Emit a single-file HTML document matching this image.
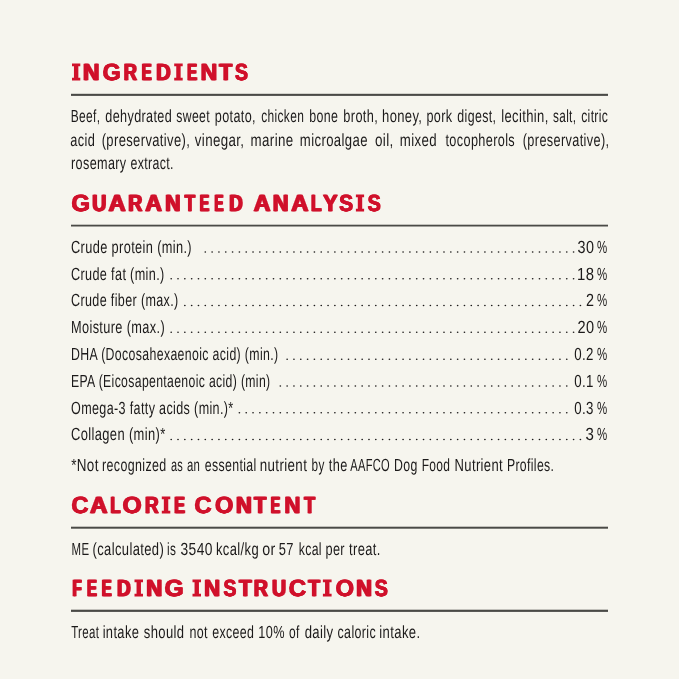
<!DOCTYPE html><html><head><meta charset="utf-8"><style>html,body{margin:0;padding:0;background:#f6f5ee;overflow:hidden}svg{display:block;will-change:transform}text{font-family:"Liberation Sans",sans-serif;white-space:pre}</style></head><body>
<svg width="679" height="679" viewBox="0 0 679 679">
<rect width="679" height="679" fill="#f6f5ee"/>
<g text-rendering="geometricPrecision" font-size="23.35" font-weight="bold" fill="#d0112b" stroke="#d0112b" stroke-width="0.30"><text x="82.30" y="80.30" textLength="16.50" lengthAdjust="spacingAndGlyphs">N</text><text x="83.00" y="80.30" textLength="16.50" lengthAdjust="spacingAndGlyphs">N</text><text x="83.70" y="80.30" textLength="16.50" lengthAdjust="spacingAndGlyphs">N</text><text x="102.20" y="80.30" textLength="18.20" lengthAdjust="spacingAndGlyphs">G</text><text x="102.60" y="80.30" textLength="18.20" lengthAdjust="spacingAndGlyphs">G</text><text x="103.00" y="80.30" textLength="18.20" lengthAdjust="spacingAndGlyphs">G</text><text x="123.00" y="80.30" textLength="13.20" lengthAdjust="spacingAndGlyphs">R</text><text x="123.70" y="80.30" textLength="13.20" lengthAdjust="spacingAndGlyphs">R</text><text x="124.40" y="80.30" textLength="13.20" lengthAdjust="spacingAndGlyphs">R</text><text x="141.10" y="80.30" textLength="9.90" lengthAdjust="spacingAndGlyphs">E</text><text x="141.80" y="80.30" textLength="9.90" lengthAdjust="spacingAndGlyphs">E</text><text x="142.50" y="80.30" textLength="9.90" lengthAdjust="spacingAndGlyphs">E</text><text x="155.40" y="80.30" textLength="14.70" lengthAdjust="spacingAndGlyphs">D</text><text x="156.10" y="80.30" textLength="14.70" lengthAdjust="spacingAndGlyphs">D</text><text x="156.80" y="80.30" textLength="14.70" lengthAdjust="spacingAndGlyphs">D</text><text x="186.40" y="80.30" textLength="10.10" lengthAdjust="spacingAndGlyphs">E</text><text x="187.10" y="80.30" textLength="10.10" lengthAdjust="spacingAndGlyphs">E</text><text x="187.80" y="80.30" textLength="10.10" lengthAdjust="spacingAndGlyphs">E</text><text x="199.90" y="80.30" textLength="16.60" lengthAdjust="spacingAndGlyphs">N</text><text x="200.60" y="80.30" textLength="16.60" lengthAdjust="spacingAndGlyphs">N</text><text x="201.30" y="80.30" textLength="16.60" lengthAdjust="spacingAndGlyphs">N</text><text x="218.50" y="80.30" textLength="13.00" lengthAdjust="spacingAndGlyphs">T</text><text x="219.20" y="80.30" textLength="13.00" lengthAdjust="spacingAndGlyphs">T</text><text x="219.90" y="80.30" textLength="13.00" lengthAdjust="spacingAndGlyphs">T</text><text x="234.50" y="80.30" textLength="13.10" lengthAdjust="spacingAndGlyphs">S</text><text x="234.90" y="80.30" textLength="13.10" lengthAdjust="spacingAndGlyphs">S</text><text x="235.30" y="80.30" textLength="13.10" lengthAdjust="spacingAndGlyphs">S</text><text x="70.90" y="211.20" textLength="18.70" lengthAdjust="spacingAndGlyphs">G</text><text x="71.30" y="211.20" textLength="18.70" lengthAdjust="spacingAndGlyphs">G</text><text x="71.70" y="211.20" textLength="18.70" lengthAdjust="spacingAndGlyphs">G</text><text x="91.50" y="211.20" textLength="14.10" lengthAdjust="spacingAndGlyphs">U</text><text x="92.20" y="211.20" textLength="14.10" lengthAdjust="spacingAndGlyphs">U</text><text x="92.90" y="211.20" textLength="14.10" lengthAdjust="spacingAndGlyphs">U</text><text x="107.80" y="211.20" textLength="17.20" lengthAdjust="spacingAndGlyphs">A</text><text x="108.50" y="211.20" textLength="17.20" lengthAdjust="spacingAndGlyphs">A</text><text x="109.20" y="211.20" textLength="17.20" lengthAdjust="spacingAndGlyphs">A</text><text x="127.60" y="211.20" textLength="14.10" lengthAdjust="spacingAndGlyphs">R</text><text x="128.30" y="211.20" textLength="14.10" lengthAdjust="spacingAndGlyphs">R</text><text x="129.00" y="211.20" textLength="14.10" lengthAdjust="spacingAndGlyphs">R</text><text x="144.60" y="211.20" textLength="16.70" lengthAdjust="spacingAndGlyphs">A</text><text x="145.30" y="211.20" textLength="16.70" lengthAdjust="spacingAndGlyphs">A</text><text x="146.00" y="211.20" textLength="16.70" lengthAdjust="spacingAndGlyphs">A</text><text x="164.50" y="211.20" textLength="15.30" lengthAdjust="spacingAndGlyphs">N</text><text x="165.20" y="211.20" textLength="15.30" lengthAdjust="spacingAndGlyphs">N</text><text x="165.90" y="211.20" textLength="15.30" lengthAdjust="spacingAndGlyphs">N</text><text x="183.90" y="211.20" textLength="10.60" lengthAdjust="spacingAndGlyphs">T</text><text x="184.60" y="211.20" textLength="10.60" lengthAdjust="spacingAndGlyphs">T</text><text x="185.30" y="211.20" textLength="10.60" lengthAdjust="spacingAndGlyphs">T</text><text x="198.90" y="211.20" textLength="9.70" lengthAdjust="spacingAndGlyphs">E</text><text x="199.60" y="211.20" textLength="9.70" lengthAdjust="spacingAndGlyphs">E</text><text x="200.30" y="211.20" textLength="9.70" lengthAdjust="spacingAndGlyphs">E</text><text x="213.70" y="211.20" textLength="9.20" lengthAdjust="spacingAndGlyphs">E</text><text x="214.40" y="211.20" textLength="9.20" lengthAdjust="spacingAndGlyphs">E</text><text x="215.10" y="211.20" textLength="9.20" lengthAdjust="spacingAndGlyphs">E</text><text x="228.50" y="211.20" textLength="13.50" lengthAdjust="spacingAndGlyphs">D</text><text x="229.20" y="211.20" textLength="13.50" lengthAdjust="spacingAndGlyphs">D</text><text x="229.90" y="211.20" textLength="13.50" lengthAdjust="spacingAndGlyphs">D</text><text x="253.00" y="211.20" textLength="16.70" lengthAdjust="spacingAndGlyphs">A</text><text x="253.70" y="211.20" textLength="16.70" lengthAdjust="spacingAndGlyphs">A</text><text x="254.40" y="211.20" textLength="16.70" lengthAdjust="spacingAndGlyphs">A</text><text x="272.10" y="211.20" textLength="15.80" lengthAdjust="spacingAndGlyphs">N</text><text x="272.80" y="211.20" textLength="15.80" lengthAdjust="spacingAndGlyphs">N</text><text x="273.50" y="211.20" textLength="15.80" lengthAdjust="spacingAndGlyphs">N</text><text x="290.60" y="211.20" textLength="17.20" lengthAdjust="spacingAndGlyphs">A</text><text x="291.30" y="211.20" textLength="17.20" lengthAdjust="spacingAndGlyphs">A</text><text x="292.00" y="211.20" textLength="17.20" lengthAdjust="spacingAndGlyphs">A</text><text x="310.20" y="211.20" textLength="10.70" lengthAdjust="spacingAndGlyphs">L</text><text x="310.90" y="211.20" textLength="10.70" lengthAdjust="spacingAndGlyphs">L</text><text x="311.60" y="211.20" textLength="10.70" lengthAdjust="spacingAndGlyphs">L</text><text x="322.40" y="211.20" textLength="14.50" lengthAdjust="spacingAndGlyphs">Y</text><text x="323.10" y="211.20" textLength="14.50" lengthAdjust="spacingAndGlyphs">Y</text><text x="323.80" y="211.20" textLength="14.50" lengthAdjust="spacingAndGlyphs">Y</text><text x="338.70" y="211.20" textLength="14.10" lengthAdjust="spacingAndGlyphs">S</text><text x="339.10" y="211.20" textLength="14.10" lengthAdjust="spacingAndGlyphs">S</text><text x="339.50" y="211.20" textLength="14.10" lengthAdjust="spacingAndGlyphs">S</text><text x="367.20" y="211.20" textLength="13.20" lengthAdjust="spacingAndGlyphs">S</text><text x="367.60" y="211.20" textLength="13.20" lengthAdjust="spacingAndGlyphs">S</text><text x="368.00" y="211.20" textLength="13.20" lengthAdjust="spacingAndGlyphs">S</text><text x="71.00" y="513.40" textLength="17.10" lengthAdjust="spacingAndGlyphs">C</text><text x="71.40" y="513.40" textLength="17.10" lengthAdjust="spacingAndGlyphs">C</text><text x="71.80" y="513.40" textLength="17.10" lengthAdjust="spacingAndGlyphs">C</text><text x="89.30" y="513.40" textLength="17.50" lengthAdjust="spacingAndGlyphs">A</text><text x="90.00" y="513.40" textLength="17.50" lengthAdjust="spacingAndGlyphs">A</text><text x="90.70" y="513.40" textLength="17.50" lengthAdjust="spacingAndGlyphs">A</text><text x="109.70" y="513.40" textLength="10.20" lengthAdjust="spacingAndGlyphs">L</text><text x="110.40" y="513.40" textLength="10.20" lengthAdjust="spacingAndGlyphs">L</text><text x="111.10" y="513.40" textLength="10.20" lengthAdjust="spacingAndGlyphs">L</text><text x="122.10" y="513.40" textLength="19.20" lengthAdjust="spacingAndGlyphs">O</text><text x="122.50" y="513.40" textLength="19.20" lengthAdjust="spacingAndGlyphs">O</text><text x="122.90" y="513.40" textLength="19.20" lengthAdjust="spacingAndGlyphs">O</text><text x="144.20" y="513.40" textLength="13.80" lengthAdjust="spacingAndGlyphs">R</text><text x="144.90" y="513.40" textLength="13.80" lengthAdjust="spacingAndGlyphs">R</text><text x="145.60" y="513.40" textLength="13.80" lengthAdjust="spacingAndGlyphs">R</text><text x="173.60" y="513.40" textLength="10.70" lengthAdjust="spacingAndGlyphs">E</text><text x="174.30" y="513.40" textLength="10.70" lengthAdjust="spacingAndGlyphs">E</text><text x="175.00" y="513.40" textLength="10.70" lengthAdjust="spacingAndGlyphs">E</text><text x="194.00" y="513.40" textLength="17.20" lengthAdjust="spacingAndGlyphs">C</text><text x="194.40" y="513.40" textLength="17.20" lengthAdjust="spacingAndGlyphs">C</text><text x="194.80" y="513.40" textLength="17.20" lengthAdjust="spacingAndGlyphs">C</text><text x="214.60" y="513.40" textLength="18.40" lengthAdjust="spacingAndGlyphs">O</text><text x="215.00" y="513.40" textLength="18.40" lengthAdjust="spacingAndGlyphs">O</text><text x="215.40" y="513.40" textLength="18.40" lengthAdjust="spacingAndGlyphs">O</text><text x="235.30" y="513.40" textLength="15.80" lengthAdjust="spacingAndGlyphs">N</text><text x="236.00" y="513.40" textLength="15.80" lengthAdjust="spacingAndGlyphs">N</text><text x="236.70" y="513.40" textLength="15.80" lengthAdjust="spacingAndGlyphs">N</text><text x="253.30" y="513.40" textLength="12.30" lengthAdjust="spacingAndGlyphs">T</text><text x="254.00" y="513.40" textLength="12.30" lengthAdjust="spacingAndGlyphs">T</text><text x="254.70" y="513.40" textLength="12.30" lengthAdjust="spacingAndGlyphs">T</text><text x="269.90" y="513.40" textLength="9.70" lengthAdjust="spacingAndGlyphs">E</text><text x="270.60" y="513.40" textLength="9.70" lengthAdjust="spacingAndGlyphs">E</text><text x="271.30" y="513.40" textLength="9.70" lengthAdjust="spacingAndGlyphs">E</text><text x="283.70" y="513.40" textLength="16.00" lengthAdjust="spacingAndGlyphs">N</text><text x="284.40" y="513.40" textLength="16.00" lengthAdjust="spacingAndGlyphs">N</text><text x="285.10" y="513.40" textLength="16.00" lengthAdjust="spacingAndGlyphs">N</text><text x="303.40" y="513.40" textLength="11.10" lengthAdjust="spacingAndGlyphs">T</text><text x="304.10" y="513.40" textLength="11.10" lengthAdjust="spacingAndGlyphs">T</text><text x="304.80" y="513.40" textLength="11.10" lengthAdjust="spacingAndGlyphs">T</text><text x="71.80" y="596.20" textLength="9.20" lengthAdjust="spacingAndGlyphs">F</text><text x="72.50" y="596.20" textLength="9.20" lengthAdjust="spacingAndGlyphs">F</text><text x="73.20" y="596.20" textLength="9.20" lengthAdjust="spacingAndGlyphs">F</text><text x="86.20" y="596.20" textLength="10.10" lengthAdjust="spacingAndGlyphs">E</text><text x="86.90" y="596.20" textLength="10.10" lengthAdjust="spacingAndGlyphs">E</text><text x="87.60" y="596.20" textLength="10.10" lengthAdjust="spacingAndGlyphs">E</text><text x="101.00" y="596.20" textLength="9.90" lengthAdjust="spacingAndGlyphs">E</text><text x="101.70" y="596.20" textLength="9.90" lengthAdjust="spacingAndGlyphs">E</text><text x="102.40" y="596.20" textLength="9.90" lengthAdjust="spacingAndGlyphs">E</text><text x="116.30" y="596.20" textLength="13.80" lengthAdjust="spacingAndGlyphs">D</text><text x="117.00" y="596.20" textLength="13.80" lengthAdjust="spacingAndGlyphs">D</text><text x="117.70" y="596.20" textLength="13.80" lengthAdjust="spacingAndGlyphs">D</text><text x="145.60" y="596.20" textLength="16.10" lengthAdjust="spacingAndGlyphs">N</text><text x="146.30" y="596.20" textLength="16.10" lengthAdjust="spacingAndGlyphs">N</text><text x="147.00" y="596.20" textLength="16.10" lengthAdjust="spacingAndGlyphs">N</text><text x="164.10" y="596.20" textLength="19.20" lengthAdjust="spacingAndGlyphs">G</text><text x="164.50" y="596.20" textLength="19.20" lengthAdjust="spacingAndGlyphs">G</text><text x="164.90" y="596.20" textLength="19.20" lengthAdjust="spacingAndGlyphs">G</text><text x="203.40" y="596.20" textLength="16.00" lengthAdjust="spacingAndGlyphs">N</text><text x="204.10" y="596.20" textLength="16.00" lengthAdjust="spacingAndGlyphs">N</text><text x="204.80" y="596.20" textLength="16.00" lengthAdjust="spacingAndGlyphs">N</text><text x="223.00" y="596.20" textLength="13.00" lengthAdjust="spacingAndGlyphs">S</text><text x="223.40" y="596.20" textLength="13.00" lengthAdjust="spacingAndGlyphs">S</text><text x="223.80" y="596.20" textLength="13.00" lengthAdjust="spacingAndGlyphs">S</text><text x="238.30" y="596.20" textLength="12.60" lengthAdjust="spacingAndGlyphs">T</text><text x="239.00" y="596.20" textLength="12.60" lengthAdjust="spacingAndGlyphs">T</text><text x="239.70" y="596.20" textLength="12.60" lengthAdjust="spacingAndGlyphs">T</text><text x="253.10" y="596.20" textLength="14.20" lengthAdjust="spacingAndGlyphs">R</text><text x="253.80" y="596.20" textLength="14.20" lengthAdjust="spacingAndGlyphs">R</text><text x="254.50" y="596.20" textLength="14.20" lengthAdjust="spacingAndGlyphs">R</text><text x="271.30" y="596.20" textLength="14.10" lengthAdjust="spacingAndGlyphs">U</text><text x="272.00" y="596.20" textLength="14.10" lengthAdjust="spacingAndGlyphs">U</text><text x="272.70" y="596.20" textLength="14.10" lengthAdjust="spacingAndGlyphs">U</text><text x="288.30" y="596.20" textLength="17.50" lengthAdjust="spacingAndGlyphs">C</text><text x="288.70" y="596.20" textLength="17.50" lengthAdjust="spacingAndGlyphs">C</text><text x="289.10" y="596.20" textLength="17.50" lengthAdjust="spacingAndGlyphs">C</text><text x="307.50" y="596.20" textLength="11.80" lengthAdjust="spacingAndGlyphs">T</text><text x="308.20" y="596.20" textLength="11.80" lengthAdjust="spacingAndGlyphs">T</text><text x="308.90" y="596.20" textLength="11.80" lengthAdjust="spacingAndGlyphs">T</text><text x="335.20" y="596.20" textLength="18.50" lengthAdjust="spacingAndGlyphs">O</text><text x="335.60" y="596.20" textLength="18.50" lengthAdjust="spacingAndGlyphs">O</text><text x="336.00" y="596.20" textLength="18.50" lengthAdjust="spacingAndGlyphs">O</text><text x="355.60" y="596.20" textLength="15.60" lengthAdjust="spacingAndGlyphs">N</text><text x="356.30" y="596.20" textLength="15.60" lengthAdjust="spacingAndGlyphs">N</text><text x="357.00" y="596.20" textLength="15.60" lengthAdjust="spacingAndGlyphs">N</text><text x="374.30" y="596.20" textLength="13.20" lengthAdjust="spacingAndGlyphs">S</text><text x="374.70" y="596.20" textLength="13.20" lengthAdjust="spacingAndGlyphs">S</text><text x="375.10" y="596.20" textLength="13.20" lengthAdjust="spacingAndGlyphs">S</text></g>
<g text-rendering="geometricPrecision" font-size="17.60" letter-spacing="0.5" fill="#1c1a1a"><text x="70.75" y="121.90" textLength="29.60" lengthAdjust="spacingAndGlyphs">Beef,</text><text x="105.35" y="121.90" textLength="66.80" lengthAdjust="spacingAndGlyphs">dehydrated</text><text x="176.35" y="121.90" textLength="33.60" lengthAdjust="spacingAndGlyphs">sweet</text><text x="214.85" y="121.90" textLength="41.10" lengthAdjust="spacingAndGlyphs">potato,</text><text x="261.25" y="121.90" textLength="42.90" lengthAdjust="spacingAndGlyphs">chicken</text><text x="309.15" y="121.90" textLength="29.00" lengthAdjust="spacingAndGlyphs">bone</text><text x="343.35" y="121.90" textLength="34.80" lengthAdjust="spacingAndGlyphs">broth,</text><text x="382.05" y="121.90" textLength="40.30" lengthAdjust="spacingAndGlyphs">honey,</text><text x="426.45" y="121.90" textLength="26.00" lengthAdjust="spacingAndGlyphs">pork</text><text x="457.35" y="121.90" textLength="38.90" lengthAdjust="spacingAndGlyphs">digest,</text><text x="501.25" y="121.90" textLength="47.40" lengthAdjust="spacingAndGlyphs">lecithin,</text><text x="553.05" y="121.90" textLength="23.30" lengthAdjust="spacingAndGlyphs">salt,</text><text x="581.15" y="121.90" textLength="27.10" lengthAdjust="spacingAndGlyphs">citric</text><text x="70.35" y="145.50" textLength="24.90" lengthAdjust="spacingAndGlyphs">acid</text><text x="101.65" y="145.50" textLength="88.60" lengthAdjust="spacingAndGlyphs">(preservative),</text><text x="194.75" y="145.50" textLength="49.70" lengthAdjust="spacingAndGlyphs">vinegar,</text><text x="250.55" y="145.50" textLength="43.00" lengthAdjust="spacingAndGlyphs">marine</text><text x="299.85" y="145.50" textLength="68.00" lengthAdjust="spacingAndGlyphs">microalgae</text><text x="374.95" y="145.50" textLength="18.80" lengthAdjust="spacingAndGlyphs">oil,</text><text x="399.75" y="145.50" textLength="37.20" lengthAdjust="spacingAndGlyphs">mixed</text><text x="445.45" y="145.50" textLength="69.60" lengthAdjust="spacingAndGlyphs">tocopherols</text><text x="522.75" y="145.50" textLength="86.70" lengthAdjust="spacingAndGlyphs">(preservative),</text><text x="71.05" y="169.10" textLength="55.50" lengthAdjust="spacingAndGlyphs">rosemary</text><text x="130.45" y="169.10" textLength="43.40" lengthAdjust="spacingAndGlyphs">extract.</text><text x="71.15" y="471.00" textLength="27.70" lengthAdjust="spacingAndGlyphs">*Not</text><text x="102.05" y="471.00" textLength="64.50" lengthAdjust="spacingAndGlyphs">recognized</text><text x="170.95" y="471.00" textLength="12.20" lengthAdjust="spacingAndGlyphs">as</text><text x="186.95" y="471.00" textLength="13.30" lengthAdjust="spacingAndGlyphs">an</text><text x="204.75" y="471.00" textLength="51.80" lengthAdjust="spacingAndGlyphs">essential</text><text x="259.75" y="471.00" textLength="47.50" lengthAdjust="spacingAndGlyphs">nutrient</text><text x="311.55" y="471.00" textLength="13.10" lengthAdjust="spacingAndGlyphs">by</text><text x="328.85" y="471.00" textLength="18.80" lengthAdjust="spacingAndGlyphs">the</text><text x="350.25" y="471.00" textLength="39.80" lengthAdjust="spacingAndGlyphs">AAFCO</text><text x="393.95" y="471.00" textLength="23.70" lengthAdjust="spacingAndGlyphs">Dog</text><text x="421.65" y="471.00" textLength="28.70" lengthAdjust="spacingAndGlyphs">Food</text><text x="454.55" y="471.00" textLength="48.50" lengthAdjust="spacingAndGlyphs">Nutrient</text><text x="506.95" y="471.00" textLength="47.30" lengthAdjust="spacingAndGlyphs">Profiles.</text><text x="71.55" y="554.70" textLength="17.80" lengthAdjust="spacingAndGlyphs">ME</text><text x="92.55" y="554.70" textLength="71.60" lengthAdjust="spacingAndGlyphs">(calculated)</text><text x="166.95" y="554.70" textLength="9.20" lengthAdjust="spacingAndGlyphs">is</text><text x="180.55" y="554.70" textLength="32.30" lengthAdjust="spacingAndGlyphs">3540</text><text x="215.95" y="554.70" textLength="43.10" lengthAdjust="spacingAndGlyphs">kcal/kg</text><text x="262.15" y="554.70" textLength="13.50" lengthAdjust="spacingAndGlyphs">or</text><text x="278.65" y="554.70" textLength="15.10" lengthAdjust="spacingAndGlyphs">57</text><text x="298.65" y="554.70" textLength="23.30" lengthAdjust="spacingAndGlyphs">kcal</text><text x="325.45" y="554.70" textLength="19.50" lengthAdjust="spacingAndGlyphs">per</text><text x="349.05" y="554.70" textLength="31.60" lengthAdjust="spacingAndGlyphs">treat.</text><text x="71.15" y="638.00" textLength="28.10" lengthAdjust="spacingAndGlyphs">Treat</text><text x="102.65" y="638.00" textLength="36.60" lengthAdjust="spacingAndGlyphs">intake</text><text x="143.75" y="638.00" textLength="40.70" lengthAdjust="spacingAndGlyphs">should</text><text x="189.55" y="638.00" textLength="18.40" lengthAdjust="spacingAndGlyphs">not</text><text x="212.25" y="638.00" textLength="42.10" lengthAdjust="spacingAndGlyphs">exceed</text><text x="258.35" y="638.00" textLength="26.50" lengthAdjust="spacingAndGlyphs">10%</text><text x="288.95" y="638.00" textLength="10.70" lengthAdjust="spacingAndGlyphs">of</text><text x="304.65" y="638.00" textLength="28.90" lengthAdjust="spacingAndGlyphs">daily</text><text x="337.55" y="638.00" textLength="38.40" lengthAdjust="spacingAndGlyphs">caloric</text><text x="379.35" y="638.00" textLength="41.10" lengthAdjust="spacingAndGlyphs">intake.</text><text x="71.00" y="252.70" textLength="121.00" lengthAdjust="spacingAndGlyphs">Crude protein (min.)</text><text x="577.60" y="252.70" textLength="16.80" lengthAdjust="spacingAndGlyphs">30</text><text x="597.00" y="252.70" textLength="10.50" lengthAdjust="spacingAndGlyphs">%</text><text x="71.00" y="279.50" textLength="93.60" lengthAdjust="spacingAndGlyphs">Crude fat (min.)</text><text x="577.00" y="279.50" textLength="17.40" lengthAdjust="spacingAndGlyphs">18</text><text x="597.00" y="279.50" textLength="10.50" lengthAdjust="spacingAndGlyphs">%</text><text x="71.00" y="306.30" textLength="107.60" lengthAdjust="spacingAndGlyphs">Crude fiber (max.)</text><text x="586.00" y="306.30" textLength="8.40" lengthAdjust="spacingAndGlyphs">2</text><text x="597.00" y="306.30" textLength="10.50" lengthAdjust="spacingAndGlyphs">%</text><text x="71.00" y="333.10" textLength="94.00" lengthAdjust="spacingAndGlyphs">Moisture (max.)</text><text x="577.40" y="333.10" textLength="17.00" lengthAdjust="spacingAndGlyphs">20</text><text x="597.00" y="333.10" textLength="10.50" lengthAdjust="spacingAndGlyphs">%</text><text x="71.00" y="359.90" textLength="207.40" lengthAdjust="spacingAndGlyphs">DHA (Docosahexaenoic acid) (min.)</text><text x="574.20" y="359.90" textLength="19.60" lengthAdjust="spacingAndGlyphs">0.2</text><text x="597.00" y="359.90" textLength="10.50" lengthAdjust="spacingAndGlyphs">%</text><text x="71.00" y="386.70" textLength="199.50" lengthAdjust="spacingAndGlyphs">EPA (Eicosapentaenoic acid) (min)</text><text x="574.20" y="386.70" textLength="19.60" lengthAdjust="spacingAndGlyphs">0.1</text><text x="597.00" y="386.70" textLength="10.50" lengthAdjust="spacingAndGlyphs">%</text><text x="71.00" y="413.50" textLength="162.60" lengthAdjust="spacingAndGlyphs">Omega-3 fatty acids (min.)*</text><text x="574.20" y="413.50" textLength="19.60" lengthAdjust="spacingAndGlyphs">0.3</text><text x="597.00" y="413.50" textLength="10.50" lengthAdjust="spacingAndGlyphs">%</text><text x="71.00" y="440.30" textLength="94.60" lengthAdjust="spacingAndGlyphs">Collagen (min)*</text><text x="585.60" y="440.30" textLength="8.80" lengthAdjust="spacingAndGlyphs">3</text><text x="597.00" y="440.30" textLength="10.50" lengthAdjust="spacingAndGlyphs">%</text></g>
<g fill="#d0112b"><path d="M72.00 63.45H80.30V66.35H78.35V77.65H80.30V80.55H72.00V77.65H73.95V66.35H72.00Z"/><path d="M174.20 63.45H182.70V66.35H180.65V77.65H182.70V80.55H174.20V77.65H176.25V66.35H174.20Z"/><path d="M355.90 194.45H364.10V197.35H362.20V208.65H364.10V211.55H355.90V208.65H357.80V197.35H355.90Z"/><path d="M161.80 496.45H170.30V499.35H168.25V510.65H170.30V513.55H161.80V510.65H163.85V499.35H161.80Z"/><path d="M134.50 579.45H143.00V582.35H140.95V593.65H143.00V596.55H134.50V593.65H136.55V582.35H134.50Z"/><path d="M192.50 579.45H201.00V582.35H198.95V593.65H201.00V596.55H192.50V593.65H194.55V582.35H192.50Z"/><path d="M322.90 579.45H331.60V582.35H329.45V593.65H331.60V596.55H322.90V593.65H325.05V582.35H322.90Z"/></g>
<rect x="71" y="93.80" width="537" height="2.10" fill="#4a4a46"/>
<rect x="71" y="224.70" width="537" height="1.80" fill="#4a4a46"/>
<rect x="71" y="526.70" width="537" height="2.00" fill="#4a4a46"/>
<rect x="71" y="609.70" width="537" height="2.20" fill="#4a4a46"/>
<g fill="#1c1a1a"><ellipse cx="205.30" cy="251.95" rx="0.85" ry="0.75"/><ellipse cx="212.12" cy="251.95" rx="0.85" ry="0.75"/><ellipse cx="218.94" cy="251.95" rx="0.85" ry="0.75"/><ellipse cx="225.76" cy="251.95" rx="0.85" ry="0.75"/><ellipse cx="232.58" cy="251.95" rx="0.85" ry="0.75"/><ellipse cx="239.40" cy="251.95" rx="0.85" ry="0.75"/><ellipse cx="246.22" cy="251.95" rx="0.85" ry="0.75"/><ellipse cx="253.04" cy="251.95" rx="0.85" ry="0.75"/><ellipse cx="259.86" cy="251.95" rx="0.85" ry="0.75"/><ellipse cx="266.68" cy="251.95" rx="0.85" ry="0.75"/><ellipse cx="273.50" cy="251.95" rx="0.85" ry="0.75"/><ellipse cx="280.32" cy="251.95" rx="0.85" ry="0.75"/><ellipse cx="287.14" cy="251.95" rx="0.85" ry="0.75"/><ellipse cx="293.96" cy="251.95" rx="0.85" ry="0.75"/><ellipse cx="300.78" cy="251.95" rx="0.85" ry="0.75"/><ellipse cx="307.60" cy="251.95" rx="0.85" ry="0.75"/><ellipse cx="314.42" cy="251.95" rx="0.85" ry="0.75"/><ellipse cx="321.24" cy="251.95" rx="0.85" ry="0.75"/><ellipse cx="328.06" cy="251.95" rx="0.85" ry="0.75"/><ellipse cx="334.88" cy="251.95" rx="0.85" ry="0.75"/><ellipse cx="341.70" cy="251.95" rx="0.85" ry="0.75"/><ellipse cx="348.52" cy="251.95" rx="0.85" ry="0.75"/><ellipse cx="355.34" cy="251.95" rx="0.85" ry="0.75"/><ellipse cx="362.16" cy="251.95" rx="0.85" ry="0.75"/><ellipse cx="368.98" cy="251.95" rx="0.85" ry="0.75"/><ellipse cx="375.80" cy="251.95" rx="0.85" ry="0.75"/><ellipse cx="382.62" cy="251.95" rx="0.85" ry="0.75"/><ellipse cx="389.44" cy="251.95" rx="0.85" ry="0.75"/><ellipse cx="396.26" cy="251.95" rx="0.85" ry="0.75"/><ellipse cx="403.08" cy="251.95" rx="0.85" ry="0.75"/><ellipse cx="409.90" cy="251.95" rx="0.85" ry="0.75"/><ellipse cx="416.72" cy="251.95" rx="0.85" ry="0.75"/><ellipse cx="423.54" cy="251.95" rx="0.85" ry="0.75"/><ellipse cx="430.36" cy="251.95" rx="0.85" ry="0.75"/><ellipse cx="437.18" cy="251.95" rx="0.85" ry="0.75"/><ellipse cx="444.00" cy="251.95" rx="0.85" ry="0.75"/><ellipse cx="450.82" cy="251.95" rx="0.85" ry="0.75"/><ellipse cx="457.64" cy="251.95" rx="0.85" ry="0.75"/><ellipse cx="464.46" cy="251.95" rx="0.85" ry="0.75"/><ellipse cx="471.28" cy="251.95" rx="0.85" ry="0.75"/><ellipse cx="478.10" cy="251.95" rx="0.85" ry="0.75"/><ellipse cx="484.92" cy="251.95" rx="0.85" ry="0.75"/><ellipse cx="491.74" cy="251.95" rx="0.85" ry="0.75"/><ellipse cx="498.56" cy="251.95" rx="0.85" ry="0.75"/><ellipse cx="505.38" cy="251.95" rx="0.85" ry="0.75"/><ellipse cx="512.20" cy="251.95" rx="0.85" ry="0.75"/><ellipse cx="519.02" cy="251.95" rx="0.85" ry="0.75"/><ellipse cx="525.84" cy="251.95" rx="0.85" ry="0.75"/><ellipse cx="532.66" cy="251.95" rx="0.85" ry="0.75"/><ellipse cx="539.48" cy="251.95" rx="0.85" ry="0.75"/><ellipse cx="546.30" cy="251.95" rx="0.85" ry="0.75"/><ellipse cx="553.12" cy="251.95" rx="0.85" ry="0.75"/><ellipse cx="559.94" cy="251.95" rx="0.85" ry="0.75"/><ellipse cx="566.76" cy="251.95" rx="0.85" ry="0.75"/><ellipse cx="573.58" cy="251.95" rx="0.85" ry="0.75"/></g>
<g fill="#1c1a1a"><ellipse cx="171.20" cy="278.75" rx="0.85" ry="0.75"/><ellipse cx="178.02" cy="278.75" rx="0.85" ry="0.75"/><ellipse cx="184.84" cy="278.75" rx="0.85" ry="0.75"/><ellipse cx="191.66" cy="278.75" rx="0.85" ry="0.75"/><ellipse cx="198.48" cy="278.75" rx="0.85" ry="0.75"/><ellipse cx="205.30" cy="278.75" rx="0.85" ry="0.75"/><ellipse cx="212.12" cy="278.75" rx="0.85" ry="0.75"/><ellipse cx="218.94" cy="278.75" rx="0.85" ry="0.75"/><ellipse cx="225.76" cy="278.75" rx="0.85" ry="0.75"/><ellipse cx="232.58" cy="278.75" rx="0.85" ry="0.75"/><ellipse cx="239.40" cy="278.75" rx="0.85" ry="0.75"/><ellipse cx="246.22" cy="278.75" rx="0.85" ry="0.75"/><ellipse cx="253.04" cy="278.75" rx="0.85" ry="0.75"/><ellipse cx="259.86" cy="278.75" rx="0.85" ry="0.75"/><ellipse cx="266.68" cy="278.75" rx="0.85" ry="0.75"/><ellipse cx="273.50" cy="278.75" rx="0.85" ry="0.75"/><ellipse cx="280.32" cy="278.75" rx="0.85" ry="0.75"/><ellipse cx="287.14" cy="278.75" rx="0.85" ry="0.75"/><ellipse cx="293.96" cy="278.75" rx="0.85" ry="0.75"/><ellipse cx="300.78" cy="278.75" rx="0.85" ry="0.75"/><ellipse cx="307.60" cy="278.75" rx="0.85" ry="0.75"/><ellipse cx="314.42" cy="278.75" rx="0.85" ry="0.75"/><ellipse cx="321.24" cy="278.75" rx="0.85" ry="0.75"/><ellipse cx="328.06" cy="278.75" rx="0.85" ry="0.75"/><ellipse cx="334.88" cy="278.75" rx="0.85" ry="0.75"/><ellipse cx="341.70" cy="278.75" rx="0.85" ry="0.75"/><ellipse cx="348.52" cy="278.75" rx="0.85" ry="0.75"/><ellipse cx="355.34" cy="278.75" rx="0.85" ry="0.75"/><ellipse cx="362.16" cy="278.75" rx="0.85" ry="0.75"/><ellipse cx="368.98" cy="278.75" rx="0.85" ry="0.75"/><ellipse cx="375.80" cy="278.75" rx="0.85" ry="0.75"/><ellipse cx="382.62" cy="278.75" rx="0.85" ry="0.75"/><ellipse cx="389.44" cy="278.75" rx="0.85" ry="0.75"/><ellipse cx="396.26" cy="278.75" rx="0.85" ry="0.75"/><ellipse cx="403.08" cy="278.75" rx="0.85" ry="0.75"/><ellipse cx="409.90" cy="278.75" rx="0.85" ry="0.75"/><ellipse cx="416.72" cy="278.75" rx="0.85" ry="0.75"/><ellipse cx="423.54" cy="278.75" rx="0.85" ry="0.75"/><ellipse cx="430.36" cy="278.75" rx="0.85" ry="0.75"/><ellipse cx="437.18" cy="278.75" rx="0.85" ry="0.75"/><ellipse cx="444.00" cy="278.75" rx="0.85" ry="0.75"/><ellipse cx="450.82" cy="278.75" rx="0.85" ry="0.75"/><ellipse cx="457.64" cy="278.75" rx="0.85" ry="0.75"/><ellipse cx="464.46" cy="278.75" rx="0.85" ry="0.75"/><ellipse cx="471.28" cy="278.75" rx="0.85" ry="0.75"/><ellipse cx="478.10" cy="278.75" rx="0.85" ry="0.75"/><ellipse cx="484.92" cy="278.75" rx="0.85" ry="0.75"/><ellipse cx="491.74" cy="278.75" rx="0.85" ry="0.75"/><ellipse cx="498.56" cy="278.75" rx="0.85" ry="0.75"/><ellipse cx="505.38" cy="278.75" rx="0.85" ry="0.75"/><ellipse cx="512.20" cy="278.75" rx="0.85" ry="0.75"/><ellipse cx="519.02" cy="278.75" rx="0.85" ry="0.75"/><ellipse cx="525.84" cy="278.75" rx="0.85" ry="0.75"/><ellipse cx="532.66" cy="278.75" rx="0.85" ry="0.75"/><ellipse cx="539.48" cy="278.75" rx="0.85" ry="0.75"/><ellipse cx="546.30" cy="278.75" rx="0.85" ry="0.75"/><ellipse cx="553.12" cy="278.75" rx="0.85" ry="0.75"/><ellipse cx="559.94" cy="278.75" rx="0.85" ry="0.75"/><ellipse cx="566.76" cy="278.75" rx="0.85" ry="0.75"/><ellipse cx="573.58" cy="278.75" rx="0.85" ry="0.75"/></g>
<g fill="#1c1a1a"><ellipse cx="184.84" cy="305.55" rx="0.85" ry="0.75"/><ellipse cx="191.66" cy="305.55" rx="0.85" ry="0.75"/><ellipse cx="198.48" cy="305.55" rx="0.85" ry="0.75"/><ellipse cx="205.30" cy="305.55" rx="0.85" ry="0.75"/><ellipse cx="212.12" cy="305.55" rx="0.85" ry="0.75"/><ellipse cx="218.94" cy="305.55" rx="0.85" ry="0.75"/><ellipse cx="225.76" cy="305.55" rx="0.85" ry="0.75"/><ellipse cx="232.58" cy="305.55" rx="0.85" ry="0.75"/><ellipse cx="239.40" cy="305.55" rx="0.85" ry="0.75"/><ellipse cx="246.22" cy="305.55" rx="0.85" ry="0.75"/><ellipse cx="253.04" cy="305.55" rx="0.85" ry="0.75"/><ellipse cx="259.86" cy="305.55" rx="0.85" ry="0.75"/><ellipse cx="266.68" cy="305.55" rx="0.85" ry="0.75"/><ellipse cx="273.50" cy="305.55" rx="0.85" ry="0.75"/><ellipse cx="280.32" cy="305.55" rx="0.85" ry="0.75"/><ellipse cx="287.14" cy="305.55" rx="0.85" ry="0.75"/><ellipse cx="293.96" cy="305.55" rx="0.85" ry="0.75"/><ellipse cx="300.78" cy="305.55" rx="0.85" ry="0.75"/><ellipse cx="307.60" cy="305.55" rx="0.85" ry="0.75"/><ellipse cx="314.42" cy="305.55" rx="0.85" ry="0.75"/><ellipse cx="321.24" cy="305.55" rx="0.85" ry="0.75"/><ellipse cx="328.06" cy="305.55" rx="0.85" ry="0.75"/><ellipse cx="334.88" cy="305.55" rx="0.85" ry="0.75"/><ellipse cx="341.70" cy="305.55" rx="0.85" ry="0.75"/><ellipse cx="348.52" cy="305.55" rx="0.85" ry="0.75"/><ellipse cx="355.34" cy="305.55" rx="0.85" ry="0.75"/><ellipse cx="362.16" cy="305.55" rx="0.85" ry="0.75"/><ellipse cx="368.98" cy="305.55" rx="0.85" ry="0.75"/><ellipse cx="375.80" cy="305.55" rx="0.85" ry="0.75"/><ellipse cx="382.62" cy="305.55" rx="0.85" ry="0.75"/><ellipse cx="389.44" cy="305.55" rx="0.85" ry="0.75"/><ellipse cx="396.26" cy="305.55" rx="0.85" ry="0.75"/><ellipse cx="403.08" cy="305.55" rx="0.85" ry="0.75"/><ellipse cx="409.90" cy="305.55" rx="0.85" ry="0.75"/><ellipse cx="416.72" cy="305.55" rx="0.85" ry="0.75"/><ellipse cx="423.54" cy="305.55" rx="0.85" ry="0.75"/><ellipse cx="430.36" cy="305.55" rx="0.85" ry="0.75"/><ellipse cx="437.18" cy="305.55" rx="0.85" ry="0.75"/><ellipse cx="444.00" cy="305.55" rx="0.85" ry="0.75"/><ellipse cx="450.82" cy="305.55" rx="0.85" ry="0.75"/><ellipse cx="457.64" cy="305.55" rx="0.85" ry="0.75"/><ellipse cx="464.46" cy="305.55" rx="0.85" ry="0.75"/><ellipse cx="471.28" cy="305.55" rx="0.85" ry="0.75"/><ellipse cx="478.10" cy="305.55" rx="0.85" ry="0.75"/><ellipse cx="484.92" cy="305.55" rx="0.85" ry="0.75"/><ellipse cx="491.74" cy="305.55" rx="0.85" ry="0.75"/><ellipse cx="498.56" cy="305.55" rx="0.85" ry="0.75"/><ellipse cx="505.38" cy="305.55" rx="0.85" ry="0.75"/><ellipse cx="512.20" cy="305.55" rx="0.85" ry="0.75"/><ellipse cx="519.02" cy="305.55" rx="0.85" ry="0.75"/><ellipse cx="525.84" cy="305.55" rx="0.85" ry="0.75"/><ellipse cx="532.66" cy="305.55" rx="0.85" ry="0.75"/><ellipse cx="539.48" cy="305.55" rx="0.85" ry="0.75"/><ellipse cx="546.30" cy="305.55" rx="0.85" ry="0.75"/><ellipse cx="553.12" cy="305.55" rx="0.85" ry="0.75"/><ellipse cx="559.94" cy="305.55" rx="0.85" ry="0.75"/><ellipse cx="566.76" cy="305.55" rx="0.85" ry="0.75"/><ellipse cx="573.58" cy="305.55" rx="0.85" ry="0.75"/><ellipse cx="580.40" cy="305.55" rx="0.85" ry="0.75"/></g>
<g fill="#1c1a1a"><ellipse cx="171.20" cy="332.35" rx="0.85" ry="0.75"/><ellipse cx="178.02" cy="332.35" rx="0.85" ry="0.75"/><ellipse cx="184.84" cy="332.35" rx="0.85" ry="0.75"/><ellipse cx="191.66" cy="332.35" rx="0.85" ry="0.75"/><ellipse cx="198.48" cy="332.35" rx="0.85" ry="0.75"/><ellipse cx="205.30" cy="332.35" rx="0.85" ry="0.75"/><ellipse cx="212.12" cy="332.35" rx="0.85" ry="0.75"/><ellipse cx="218.94" cy="332.35" rx="0.85" ry="0.75"/><ellipse cx="225.76" cy="332.35" rx="0.85" ry="0.75"/><ellipse cx="232.58" cy="332.35" rx="0.85" ry="0.75"/><ellipse cx="239.40" cy="332.35" rx="0.85" ry="0.75"/><ellipse cx="246.22" cy="332.35" rx="0.85" ry="0.75"/><ellipse cx="253.04" cy="332.35" rx="0.85" ry="0.75"/><ellipse cx="259.86" cy="332.35" rx="0.85" ry="0.75"/><ellipse cx="266.68" cy="332.35" rx="0.85" ry="0.75"/><ellipse cx="273.50" cy="332.35" rx="0.85" ry="0.75"/><ellipse cx="280.32" cy="332.35" rx="0.85" ry="0.75"/><ellipse cx="287.14" cy="332.35" rx="0.85" ry="0.75"/><ellipse cx="293.96" cy="332.35" rx="0.85" ry="0.75"/><ellipse cx="300.78" cy="332.35" rx="0.85" ry="0.75"/><ellipse cx="307.60" cy="332.35" rx="0.85" ry="0.75"/><ellipse cx="314.42" cy="332.35" rx="0.85" ry="0.75"/><ellipse cx="321.24" cy="332.35" rx="0.85" ry="0.75"/><ellipse cx="328.06" cy="332.35" rx="0.85" ry="0.75"/><ellipse cx="334.88" cy="332.35" rx="0.85" ry="0.75"/><ellipse cx="341.70" cy="332.35" rx="0.85" ry="0.75"/><ellipse cx="348.52" cy="332.35" rx="0.85" ry="0.75"/><ellipse cx="355.34" cy="332.35" rx="0.85" ry="0.75"/><ellipse cx="362.16" cy="332.35" rx="0.85" ry="0.75"/><ellipse cx="368.98" cy="332.35" rx="0.85" ry="0.75"/><ellipse cx="375.80" cy="332.35" rx="0.85" ry="0.75"/><ellipse cx="382.62" cy="332.35" rx="0.85" ry="0.75"/><ellipse cx="389.44" cy="332.35" rx="0.85" ry="0.75"/><ellipse cx="396.26" cy="332.35" rx="0.85" ry="0.75"/><ellipse cx="403.08" cy="332.35" rx="0.85" ry="0.75"/><ellipse cx="409.90" cy="332.35" rx="0.85" ry="0.75"/><ellipse cx="416.72" cy="332.35" rx="0.85" ry="0.75"/><ellipse cx="423.54" cy="332.35" rx="0.85" ry="0.75"/><ellipse cx="430.36" cy="332.35" rx="0.85" ry="0.75"/><ellipse cx="437.18" cy="332.35" rx="0.85" ry="0.75"/><ellipse cx="444.00" cy="332.35" rx="0.85" ry="0.75"/><ellipse cx="450.82" cy="332.35" rx="0.85" ry="0.75"/><ellipse cx="457.64" cy="332.35" rx="0.85" ry="0.75"/><ellipse cx="464.46" cy="332.35" rx="0.85" ry="0.75"/><ellipse cx="471.28" cy="332.35" rx="0.85" ry="0.75"/><ellipse cx="478.10" cy="332.35" rx="0.85" ry="0.75"/><ellipse cx="484.92" cy="332.35" rx="0.85" ry="0.75"/><ellipse cx="491.74" cy="332.35" rx="0.85" ry="0.75"/><ellipse cx="498.56" cy="332.35" rx="0.85" ry="0.75"/><ellipse cx="505.38" cy="332.35" rx="0.85" ry="0.75"/><ellipse cx="512.20" cy="332.35" rx="0.85" ry="0.75"/><ellipse cx="519.02" cy="332.35" rx="0.85" ry="0.75"/><ellipse cx="525.84" cy="332.35" rx="0.85" ry="0.75"/><ellipse cx="532.66" cy="332.35" rx="0.85" ry="0.75"/><ellipse cx="539.48" cy="332.35" rx="0.85" ry="0.75"/><ellipse cx="546.30" cy="332.35" rx="0.85" ry="0.75"/><ellipse cx="553.12" cy="332.35" rx="0.85" ry="0.75"/><ellipse cx="559.94" cy="332.35" rx="0.85" ry="0.75"/><ellipse cx="566.76" cy="332.35" rx="0.85" ry="0.75"/><ellipse cx="573.58" cy="332.35" rx="0.85" ry="0.75"/></g>
<g fill="#1c1a1a"><ellipse cx="287.14" cy="359.15" rx="0.85" ry="0.75"/><ellipse cx="293.96" cy="359.15" rx="0.85" ry="0.75"/><ellipse cx="300.78" cy="359.15" rx="0.85" ry="0.75"/><ellipse cx="307.60" cy="359.15" rx="0.85" ry="0.75"/><ellipse cx="314.42" cy="359.15" rx="0.85" ry="0.75"/><ellipse cx="321.24" cy="359.15" rx="0.85" ry="0.75"/><ellipse cx="328.06" cy="359.15" rx="0.85" ry="0.75"/><ellipse cx="334.88" cy="359.15" rx="0.85" ry="0.75"/><ellipse cx="341.70" cy="359.15" rx="0.85" ry="0.75"/><ellipse cx="348.52" cy="359.15" rx="0.85" ry="0.75"/><ellipse cx="355.34" cy="359.15" rx="0.85" ry="0.75"/><ellipse cx="362.16" cy="359.15" rx="0.85" ry="0.75"/><ellipse cx="368.98" cy="359.15" rx="0.85" ry="0.75"/><ellipse cx="375.80" cy="359.15" rx="0.85" ry="0.75"/><ellipse cx="382.62" cy="359.15" rx="0.85" ry="0.75"/><ellipse cx="389.44" cy="359.15" rx="0.85" ry="0.75"/><ellipse cx="396.26" cy="359.15" rx="0.85" ry="0.75"/><ellipse cx="403.08" cy="359.15" rx="0.85" ry="0.75"/><ellipse cx="409.90" cy="359.15" rx="0.85" ry="0.75"/><ellipse cx="416.72" cy="359.15" rx="0.85" ry="0.75"/><ellipse cx="423.54" cy="359.15" rx="0.85" ry="0.75"/><ellipse cx="430.36" cy="359.15" rx="0.85" ry="0.75"/><ellipse cx="437.18" cy="359.15" rx="0.85" ry="0.75"/><ellipse cx="444.00" cy="359.15" rx="0.85" ry="0.75"/><ellipse cx="450.82" cy="359.15" rx="0.85" ry="0.75"/><ellipse cx="457.64" cy="359.15" rx="0.85" ry="0.75"/><ellipse cx="464.46" cy="359.15" rx="0.85" ry="0.75"/><ellipse cx="471.28" cy="359.15" rx="0.85" ry="0.75"/><ellipse cx="478.10" cy="359.15" rx="0.85" ry="0.75"/><ellipse cx="484.92" cy="359.15" rx="0.85" ry="0.75"/><ellipse cx="491.74" cy="359.15" rx="0.85" ry="0.75"/><ellipse cx="498.56" cy="359.15" rx="0.85" ry="0.75"/><ellipse cx="505.38" cy="359.15" rx="0.85" ry="0.75"/><ellipse cx="512.20" cy="359.15" rx="0.85" ry="0.75"/><ellipse cx="519.02" cy="359.15" rx="0.85" ry="0.75"/><ellipse cx="525.84" cy="359.15" rx="0.85" ry="0.75"/><ellipse cx="532.66" cy="359.15" rx="0.85" ry="0.75"/><ellipse cx="539.48" cy="359.15" rx="0.85" ry="0.75"/><ellipse cx="546.30" cy="359.15" rx="0.85" ry="0.75"/><ellipse cx="553.12" cy="359.15" rx="0.85" ry="0.75"/><ellipse cx="559.94" cy="359.15" rx="0.85" ry="0.75"/><ellipse cx="566.76" cy="359.15" rx="0.85" ry="0.75"/></g>
<g fill="#1c1a1a"><ellipse cx="280.32" cy="385.95" rx="0.85" ry="0.75"/><ellipse cx="287.14" cy="385.95" rx="0.85" ry="0.75"/><ellipse cx="293.96" cy="385.95" rx="0.85" ry="0.75"/><ellipse cx="300.78" cy="385.95" rx="0.85" ry="0.75"/><ellipse cx="307.60" cy="385.95" rx="0.85" ry="0.75"/><ellipse cx="314.42" cy="385.95" rx="0.85" ry="0.75"/><ellipse cx="321.24" cy="385.95" rx="0.85" ry="0.75"/><ellipse cx="328.06" cy="385.95" rx="0.85" ry="0.75"/><ellipse cx="334.88" cy="385.95" rx="0.85" ry="0.75"/><ellipse cx="341.70" cy="385.95" rx="0.85" ry="0.75"/><ellipse cx="348.52" cy="385.95" rx="0.85" ry="0.75"/><ellipse cx="355.34" cy="385.95" rx="0.85" ry="0.75"/><ellipse cx="362.16" cy="385.95" rx="0.85" ry="0.75"/><ellipse cx="368.98" cy="385.95" rx="0.85" ry="0.75"/><ellipse cx="375.80" cy="385.95" rx="0.85" ry="0.75"/><ellipse cx="382.62" cy="385.95" rx="0.85" ry="0.75"/><ellipse cx="389.44" cy="385.95" rx="0.85" ry="0.75"/><ellipse cx="396.26" cy="385.95" rx="0.85" ry="0.75"/><ellipse cx="403.08" cy="385.95" rx="0.85" ry="0.75"/><ellipse cx="409.90" cy="385.95" rx="0.85" ry="0.75"/><ellipse cx="416.72" cy="385.95" rx="0.85" ry="0.75"/><ellipse cx="423.54" cy="385.95" rx="0.85" ry="0.75"/><ellipse cx="430.36" cy="385.95" rx="0.85" ry="0.75"/><ellipse cx="437.18" cy="385.95" rx="0.85" ry="0.75"/><ellipse cx="444.00" cy="385.95" rx="0.85" ry="0.75"/><ellipse cx="450.82" cy="385.95" rx="0.85" ry="0.75"/><ellipse cx="457.64" cy="385.95" rx="0.85" ry="0.75"/><ellipse cx="464.46" cy="385.95" rx="0.85" ry="0.75"/><ellipse cx="471.28" cy="385.95" rx="0.85" ry="0.75"/><ellipse cx="478.10" cy="385.95" rx="0.85" ry="0.75"/><ellipse cx="484.92" cy="385.95" rx="0.85" ry="0.75"/><ellipse cx="491.74" cy="385.95" rx="0.85" ry="0.75"/><ellipse cx="498.56" cy="385.95" rx="0.85" ry="0.75"/><ellipse cx="505.38" cy="385.95" rx="0.85" ry="0.75"/><ellipse cx="512.20" cy="385.95" rx="0.85" ry="0.75"/><ellipse cx="519.02" cy="385.95" rx="0.85" ry="0.75"/><ellipse cx="525.84" cy="385.95" rx="0.85" ry="0.75"/><ellipse cx="532.66" cy="385.95" rx="0.85" ry="0.75"/><ellipse cx="539.48" cy="385.95" rx="0.85" ry="0.75"/><ellipse cx="546.30" cy="385.95" rx="0.85" ry="0.75"/><ellipse cx="553.12" cy="385.95" rx="0.85" ry="0.75"/><ellipse cx="559.94" cy="385.95" rx="0.85" ry="0.75"/><ellipse cx="566.76" cy="385.95" rx="0.85" ry="0.75"/></g>
<g fill="#1c1a1a"><ellipse cx="239.40" cy="412.75" rx="0.85" ry="0.75"/><ellipse cx="246.22" cy="412.75" rx="0.85" ry="0.75"/><ellipse cx="253.04" cy="412.75" rx="0.85" ry="0.75"/><ellipse cx="259.86" cy="412.75" rx="0.85" ry="0.75"/><ellipse cx="266.68" cy="412.75" rx="0.85" ry="0.75"/><ellipse cx="273.50" cy="412.75" rx="0.85" ry="0.75"/><ellipse cx="280.32" cy="412.75" rx="0.85" ry="0.75"/><ellipse cx="287.14" cy="412.75" rx="0.85" ry="0.75"/><ellipse cx="293.96" cy="412.75" rx="0.85" ry="0.75"/><ellipse cx="300.78" cy="412.75" rx="0.85" ry="0.75"/><ellipse cx="307.60" cy="412.75" rx="0.85" ry="0.75"/><ellipse cx="314.42" cy="412.75" rx="0.85" ry="0.75"/><ellipse cx="321.24" cy="412.75" rx="0.85" ry="0.75"/><ellipse cx="328.06" cy="412.75" rx="0.85" ry="0.75"/><ellipse cx="334.88" cy="412.75" rx="0.85" ry="0.75"/><ellipse cx="341.70" cy="412.75" rx="0.85" ry="0.75"/><ellipse cx="348.52" cy="412.75" rx="0.85" ry="0.75"/><ellipse cx="355.34" cy="412.75" rx="0.85" ry="0.75"/><ellipse cx="362.16" cy="412.75" rx="0.85" ry="0.75"/><ellipse cx="368.98" cy="412.75" rx="0.85" ry="0.75"/><ellipse cx="375.80" cy="412.75" rx="0.85" ry="0.75"/><ellipse cx="382.62" cy="412.75" rx="0.85" ry="0.75"/><ellipse cx="389.44" cy="412.75" rx="0.85" ry="0.75"/><ellipse cx="396.26" cy="412.75" rx="0.85" ry="0.75"/><ellipse cx="403.08" cy="412.75" rx="0.85" ry="0.75"/><ellipse cx="409.90" cy="412.75" rx="0.85" ry="0.75"/><ellipse cx="416.72" cy="412.75" rx="0.85" ry="0.75"/><ellipse cx="423.54" cy="412.75" rx="0.85" ry="0.75"/><ellipse cx="430.36" cy="412.75" rx="0.85" ry="0.75"/><ellipse cx="437.18" cy="412.75" rx="0.85" ry="0.75"/><ellipse cx="444.00" cy="412.75" rx="0.85" ry="0.75"/><ellipse cx="450.82" cy="412.75" rx="0.85" ry="0.75"/><ellipse cx="457.64" cy="412.75" rx="0.85" ry="0.75"/><ellipse cx="464.46" cy="412.75" rx="0.85" ry="0.75"/><ellipse cx="471.28" cy="412.75" rx="0.85" ry="0.75"/><ellipse cx="478.10" cy="412.75" rx="0.85" ry="0.75"/><ellipse cx="484.92" cy="412.75" rx="0.85" ry="0.75"/><ellipse cx="491.74" cy="412.75" rx="0.85" ry="0.75"/><ellipse cx="498.56" cy="412.75" rx="0.85" ry="0.75"/><ellipse cx="505.38" cy="412.75" rx="0.85" ry="0.75"/><ellipse cx="512.20" cy="412.75" rx="0.85" ry="0.75"/><ellipse cx="519.02" cy="412.75" rx="0.85" ry="0.75"/><ellipse cx="525.84" cy="412.75" rx="0.85" ry="0.75"/><ellipse cx="532.66" cy="412.75" rx="0.85" ry="0.75"/><ellipse cx="539.48" cy="412.75" rx="0.85" ry="0.75"/><ellipse cx="546.30" cy="412.75" rx="0.85" ry="0.75"/><ellipse cx="553.12" cy="412.75" rx="0.85" ry="0.75"/><ellipse cx="559.94" cy="412.75" rx="0.85" ry="0.75"/><ellipse cx="566.76" cy="412.75" rx="0.85" ry="0.75"/></g>
<g fill="#1c1a1a"><ellipse cx="171.20" cy="439.55" rx="0.85" ry="0.75"/><ellipse cx="178.02" cy="439.55" rx="0.85" ry="0.75"/><ellipse cx="184.84" cy="439.55" rx="0.85" ry="0.75"/><ellipse cx="191.66" cy="439.55" rx="0.85" ry="0.75"/><ellipse cx="198.48" cy="439.55" rx="0.85" ry="0.75"/><ellipse cx="205.30" cy="439.55" rx="0.85" ry="0.75"/><ellipse cx="212.12" cy="439.55" rx="0.85" ry="0.75"/><ellipse cx="218.94" cy="439.55" rx="0.85" ry="0.75"/><ellipse cx="225.76" cy="439.55" rx="0.85" ry="0.75"/><ellipse cx="232.58" cy="439.55" rx="0.85" ry="0.75"/><ellipse cx="239.40" cy="439.55" rx="0.85" ry="0.75"/><ellipse cx="246.22" cy="439.55" rx="0.85" ry="0.75"/><ellipse cx="253.04" cy="439.55" rx="0.85" ry="0.75"/><ellipse cx="259.86" cy="439.55" rx="0.85" ry="0.75"/><ellipse cx="266.68" cy="439.55" rx="0.85" ry="0.75"/><ellipse cx="273.50" cy="439.55" rx="0.85" ry="0.75"/><ellipse cx="280.32" cy="439.55" rx="0.85" ry="0.75"/><ellipse cx="287.14" cy="439.55" rx="0.85" ry="0.75"/><ellipse cx="293.96" cy="439.55" rx="0.85" ry="0.75"/><ellipse cx="300.78" cy="439.55" rx="0.85" ry="0.75"/><ellipse cx="307.60" cy="439.55" rx="0.85" ry="0.75"/><ellipse cx="314.42" cy="439.55" rx="0.85" ry="0.75"/><ellipse cx="321.24" cy="439.55" rx="0.85" ry="0.75"/><ellipse cx="328.06" cy="439.55" rx="0.85" ry="0.75"/><ellipse cx="334.88" cy="439.55" rx="0.85" ry="0.75"/><ellipse cx="341.70" cy="439.55" rx="0.85" ry="0.75"/><ellipse cx="348.52" cy="439.55" rx="0.85" ry="0.75"/><ellipse cx="355.34" cy="439.55" rx="0.85" ry="0.75"/><ellipse cx="362.16" cy="439.55" rx="0.85" ry="0.75"/><ellipse cx="368.98" cy="439.55" rx="0.85" ry="0.75"/><ellipse cx="375.80" cy="439.55" rx="0.85" ry="0.75"/><ellipse cx="382.62" cy="439.55" rx="0.85" ry="0.75"/><ellipse cx="389.44" cy="439.55" rx="0.85" ry="0.75"/><ellipse cx="396.26" cy="439.55" rx="0.85" ry="0.75"/><ellipse cx="403.08" cy="439.55" rx="0.85" ry="0.75"/><ellipse cx="409.90" cy="439.55" rx="0.85" ry="0.75"/><ellipse cx="416.72" cy="439.55" rx="0.85" ry="0.75"/><ellipse cx="423.54" cy="439.55" rx="0.85" ry="0.75"/><ellipse cx="430.36" cy="439.55" rx="0.85" ry="0.75"/><ellipse cx="437.18" cy="439.55" rx="0.85" ry="0.75"/><ellipse cx="444.00" cy="439.55" rx="0.85" ry="0.75"/><ellipse cx="450.82" cy="439.55" rx="0.85" ry="0.75"/><ellipse cx="457.64" cy="439.55" rx="0.85" ry="0.75"/><ellipse cx="464.46" cy="439.55" rx="0.85" ry="0.75"/><ellipse cx="471.28" cy="439.55" rx="0.85" ry="0.75"/><ellipse cx="478.10" cy="439.55" rx="0.85" ry="0.75"/><ellipse cx="484.92" cy="439.55" rx="0.85" ry="0.75"/><ellipse cx="491.74" cy="439.55" rx="0.85" ry="0.75"/><ellipse cx="498.56" cy="439.55" rx="0.85" ry="0.75"/><ellipse cx="505.38" cy="439.55" rx="0.85" ry="0.75"/><ellipse cx="512.20" cy="439.55" rx="0.85" ry="0.75"/><ellipse cx="519.02" cy="439.55" rx="0.85" ry="0.75"/><ellipse cx="525.84" cy="439.55" rx="0.85" ry="0.75"/><ellipse cx="532.66" cy="439.55" rx="0.85" ry="0.75"/><ellipse cx="539.48" cy="439.55" rx="0.85" ry="0.75"/><ellipse cx="546.30" cy="439.55" rx="0.85" ry="0.75"/><ellipse cx="553.12" cy="439.55" rx="0.85" ry="0.75"/><ellipse cx="559.94" cy="439.55" rx="0.85" ry="0.75"/><ellipse cx="566.76" cy="439.55" rx="0.85" ry="0.75"/><ellipse cx="573.58" cy="439.55" rx="0.85" ry="0.75"/><ellipse cx="580.40" cy="439.55" rx="0.85" ry="0.75"/></g>
</svg></body></html>
